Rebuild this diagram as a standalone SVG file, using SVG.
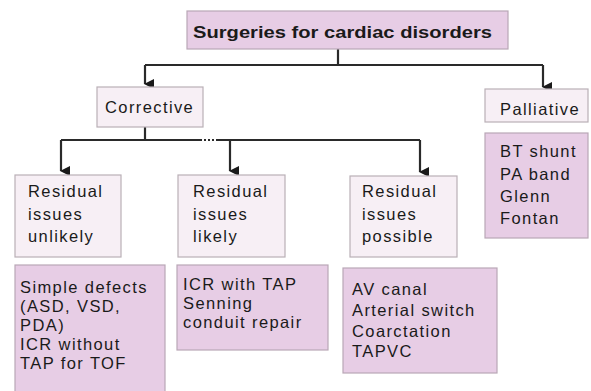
<svg xmlns="http://www.w3.org/2000/svg" width="591" height="391" viewBox="0 0 591 391">
<defs>
<style>
.t{font-family:"Liberation Sans",Arial,sans-serif;font-size:16.5px;fill:#1a1a1a;letter-spacing:1.4px}
.light{fill:#f7eff5;stroke:#b9b0b6;stroke-width:1.2}
.pink{fill:#e7cde5;stroke:#b9a7b6;stroke-width:1.2}
.ln{stroke:#2a2a2a;stroke-width:2.2;fill:none}
</style>
<marker id="ah" viewBox="0 0 10 10" refX="5" refY="9" markerWidth="10" markerHeight="10" markerUnits="userSpaceOnUse" orient="auto-start-reverse">
<path d="M0,0 L10,0 L5,10 Z" fill="#1a1a1a"/>
</marker>
</defs>
<rect width="591" height="391" fill="#ffffff"/>
<g id="connectors">
<path class="ln" d="M338,49 V65"/>
<path class="ln" d="M145,65 H543"/>
<path class="ln" d="M145,65 V84" marker-end="url(#ah)"/>
<path class="ln" d="M543,65 V87" marker-end="url(#ah)"/>
<path class="ln" d="M145,127 V140"/>
<path class="ln" d="M61,140 H200"/>
<path class="ln" d="M200,140 H218" stroke-dasharray="2,2"/>
<path class="ln" d="M218,140 H420"/>
<path class="ln" d="M61,140 V171" marker-end="url(#ah)"/>
<path class="ln" d="M230,140 V171" marker-end="url(#ah)"/>
<path class="ln" d="M420,140 V172" marker-end="url(#ah)"/>
</g>
<g id="root">
<rect class="pink" x="187" y="11" width="321" height="38" fill="#ecd6ec"/>
<text class="t" x="193" y="38" textLength="299" lengthAdjust="spacingAndGlyphs" style="font-weight:bold;letter-spacing:0">Surgeries for cardiac disorders</text>
</g>
<g id="corrective">
<rect class="light" x="97" y="87" width="106" height="40"/>
<text class="t" x="105" y="113">Corrective</text>
</g>
<g id="palliative">
<rect class="light" x="485" y="89" width="103" height="33"/>
<text class="t" x="500" y="115">Palliative</text>
</g>
<g id="palliative-list">
<rect class="pink" x="485" y="133" width="103" height="105"/>
<text class="t" x="500" y="157">BT shunt</text>
<text class="t" x="500" y="180">PA band</text>
<text class="t" x="500" y="202">Glenn</text>
<text class="t" x="500" y="224">Fontan</text>
</g>
<g id="unlikely">
<rect class="light" x="15" y="175" width="106" height="82"/>
<text class="t" x="28" y="197">Residual</text>
<text class="t" x="28" y="220">issues</text>
<text class="t" x="28" y="242">unlikely</text>
</g>
<g id="likely">
<rect class="light" x="178" y="175" width="107" height="82"/>
<text class="t" x="193" y="197">Residual</text>
<text class="t" x="193" y="220">issues</text>
<text class="t" x="193" y="242">likely</text>
</g>
<g id="possible">
<rect class="light" x="350" y="176" width="107" height="81"/>
<text class="t" x="362" y="197">Residual</text>
<text class="t" x="362" y="220">issues</text>
<text class="t" x="362" y="242">possible</text>
</g>
<g id="unlikely-list">
<rect class="pink" x="15" y="265" width="150" height="130"/>
<text class="t" x="20" y="293">Simple defects</text>
<text class="t" x="20" y="312">(ASD, VSD,</text>
<text class="t" x="20" y="331">PDA)</text>
<text class="t" x="20" y="350">ICR without</text>
<text class="t" x="20" y="369">TAP for TOF</text>
</g>
<g id="likely-list">
<rect class="pink" x="177" y="265" width="151" height="85"/>
<text class="t" x="183" y="290">ICR with TAP</text>
<text class="t" x="183" y="309">Senning</text>
<text class="t" x="183" y="328">conduit repair</text>
</g>
<g id="possible-list">
<rect class="pink" x="343" y="268" width="154" height="105"/>
<text class="t" x="352" y="295">AV canal</text>
<text class="t" x="352" y="316">Arterial switch</text>
<text class="t" x="352" y="337">Coarctation</text>
<text class="t" x="352" y="357">TAPVC</text>
</g>
</svg>
